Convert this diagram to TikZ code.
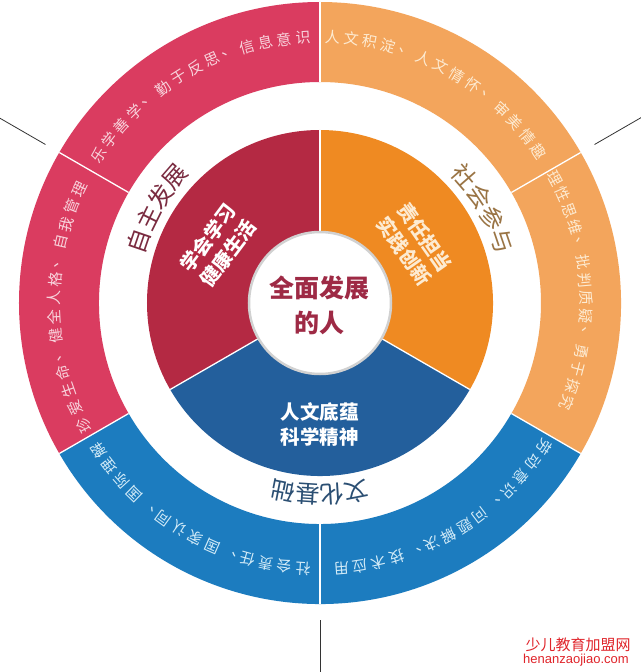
\documentclass[tikz,border=0pt]{standalone}
\usepackage{fontspec}
\setmainfont{Noto Sans CJK SC}
\newfontfamily\latinfont{Liberation Sans}
\definecolor{redout}{HTML}{DA3C60}
\definecolor{redin}{HTML}{B42943}
\definecolor{orout}{HTML}{F3A55C}
\definecolor{orin}{HTML}{EF8A22}
\definecolor{blout}{HTML}{1C7CBF}
\definecolor{blin}{HTML}{235F9C}
\definecolor{ctext}{HTML}{9E2A45}
\definecolor{redtxt}{HTML}{F8D3DC}
\definecolor{ortxt}{HTML}{FDEBD2}
\definecolor{bltxt}{HTML}{D4ECF8}
\definecolor{redlab}{HTML}{7A2B40}
\definecolor{orlab}{HTML}{9A7444}
\definecolor{bllab}{HTML}{2B4F73}
\definecolor{wm}{HTML}{E0242A}
\newcommand\arcchars[7]{%
  \foreach \ch [count=\i] in {#7} {%
    \pgfmathsetmacro\ang{#2+((#5+1)/2-\i)*#3}%
    \node[#6, rotate=\ang-90, name=#1\i] at (\ang:#4) {\ch};
  }%
}
\newcommand\ringsector[5]{%
  \fill[#5] (#1:#3) -- (#1:#4) arc[start angle=#1, end angle=#2, radius=#4]
    -- (#2:#3) arc[start angle=#2, end angle=#1, radius=#3] -- cycle;
}
\tikzset{
  outtxt/.style={inner sep=0pt, font=\fontsize{15}{15}\selectfont},
  midlab/.style={inner sep=0pt, font=\fontsize{24}{24}\selectfont},
  pielab/.style={inner sep=0pt, align=center, font=\bfseries\fontsize{19.5}{25}\selectfont},
  sepline/.style={white, line width=1.3pt},
  tick/.style={black!80, line width=0.8pt}
}
\begin{document}
\begin{tikzpicture}[x=1pt,y=1pt]
\useasboundingbox (-320,-369) rectangle (320,303);
\fill[white] (-320,-369) rectangle (320,303);
% outer ring
\ringsector{90}{210}{221}{301}{redout}
\ringsector{-30}{90}{221}{301}{orout}
\ringsector{210}{330}{221}{301}{blout}
% inner pie
\fill[redin] (0,0) -- (90:173) arc[start angle=90, end angle=210, radius=173] -- cycle;
\fill[orin] (0,0) -- (-30:173) arc[start angle=-30, end angle=90, radius=173] -- cycle;
\fill[blin] (0,0) -- (210:173) arc[start angle=210, end angle=330, radius=173] -- cycle;
% separators
\foreach \a in {90,210,330} {
  \draw[sepline] (0,0) -- (\a:173);
}
\foreach \a in {30,90,150,210,270,330} {
  \draw[sepline] (\a:221) -- (\a:301);
}
% ticks
\foreach \a/\n in {150/a,30/b,270/c} {
  \coordinate (t\n1) at (\a:317);
  \coordinate (t\n2) at (\a:380);
  \draw[tick] (t\n1) -- (t\n2);
}
% center circle
\node[circle, fill=white, draw=black!18, line width=2.5pt, minimum size=142pt, inner sep=0pt] (core) at (0,0) {};
\node[inner sep=0pt, align=center, text=ctext, font=\bfseries\fontsize{25}{35}\selectfont] (coretxt) at (0,-2) {全面发展\\的人};
% pie labels
\node[pielab, text=white, rotate=53] (pr) at (150.6:117) {学会学习\\健康生活};
\node[pielab, text=ortxt, rotate=-55] (po) at (31.8:111) {责任担当\\实践创新};
\node[pielab, text=white] (pb) at (270:121) {人文底蕴\\科学精神};
% middle labels
\arcchars{ml}{150}{7.4}{192}{4}{midlab, text=redlab}{自,主,发,展}
\arcchars{mo}{30}{7.4}{192}{4}{midlab, text=orlab}{社,会,参,与}
\arcchars{mb}{270}{7.4}{192}{4}{midlab, text=bllab}{文,化,基,础}
% outer ring texts
\arcchars{oa}{120}{4.05}{266}{14}{outtxt, text=redtxt}{乐,学,善,学,、,勤,于,反,思,、,信,息,意,识}
\arcchars{ob}{181}{4.05}{266}{14}{outtxt, text=redtxt}{珍,爱,生,命,、,健,全,人,格,、,自,我,管,理}
\arcchars{oc}{61}{4.05}{266}{14}{outtxt, text=ortxt}{人,文,积,淀,、,人,文,情,怀,、,审,美,情,趣}
\arcchars{od}{3}{3.85}{266}{14}{outtxt, text=ortxt}{理,性,思,维,、,批,判,质,疑,、,勇,于,探,究}
\arcchars{oe}{301}{4.05}{266}{14}{outtxt, text=bltxt}{劳,动,意,识,、,问,题,解,决,、,技,术,应,用}
\arcchars{of}{240}{4.05}{266}{14}{outtxt, text=bltxt}{社,会,责,任,、,国,家,认,同,、,国,际,理,解}
% watermark
\node[inner sep=0pt, text=wm, font=\fontsize{15}{15}\selectfont] (wm1) at (258,-342) {少儿教育加盟网};
\node[inner sep=0pt, text=wm, font=\latinfont\fontsize{13}{13}\selectfont] (wm2) at (256,-357) {henanzaojiao.com};
\end{tikzpicture}
\end{document}
